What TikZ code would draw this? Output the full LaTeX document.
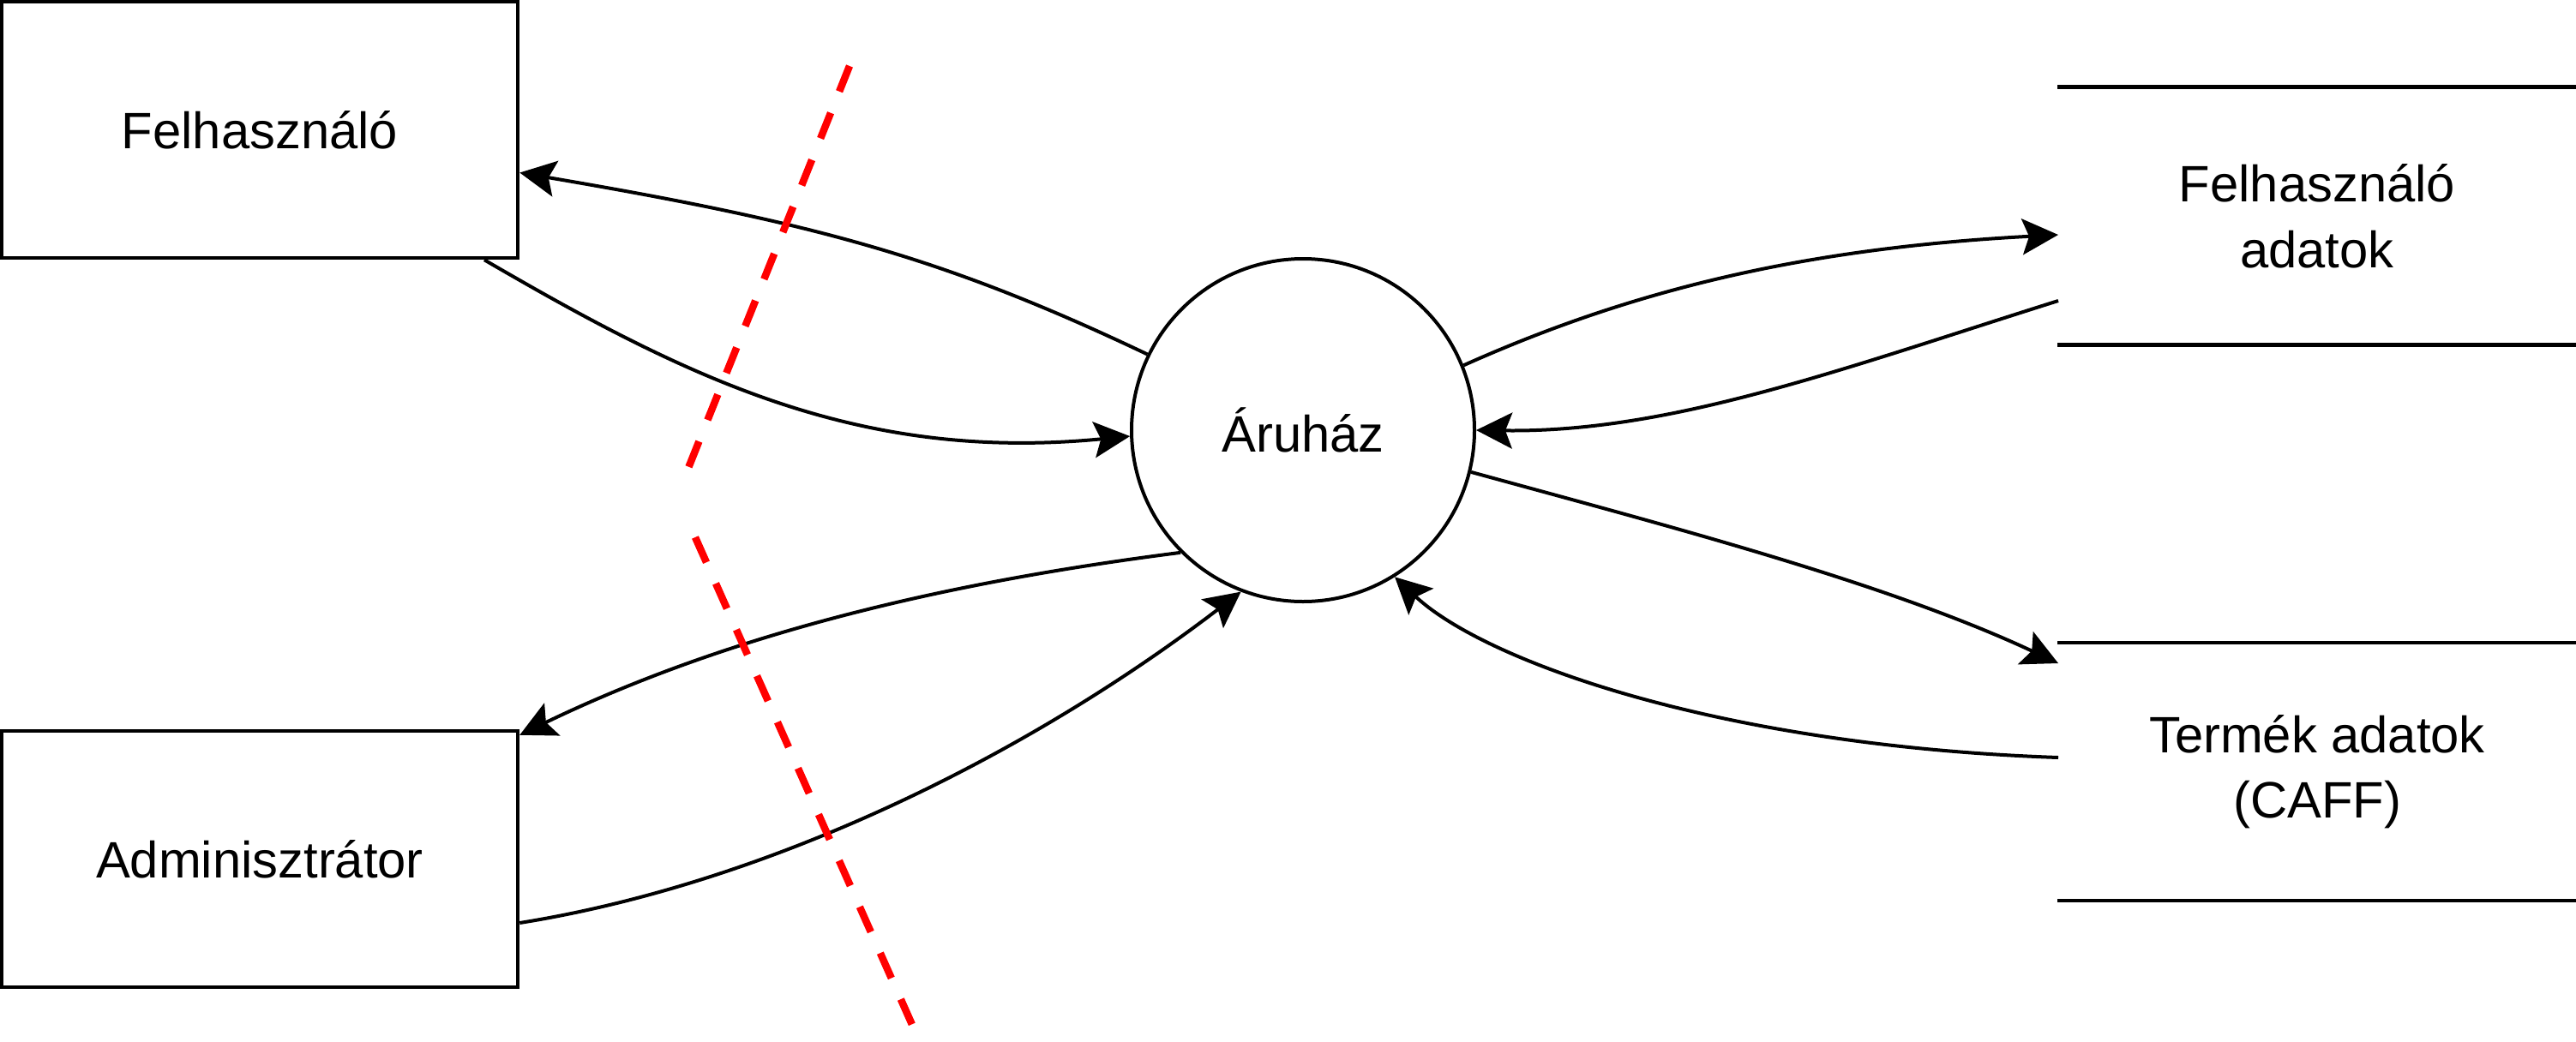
\documentclass[tikz,border=0pt]{standalone}
\usepackage{fontspec}
\setmainfont{Liberation Sans}
\usetikzlibrary{arrows.meta}
\begin{document}
\begin{tikzpicture}[
  every node/.style={font=\fontsize{17}{21.8}\selectfont},
  entity/.style={draw, line width=0.045cm, minimum width=6.02cm, minimum height=2.99cm, inner sep=0pt},
  proc/.style={draw, circle, line width=0.04cm, minimum size=4cm, inner sep=0pt},
  store/.style={minimum width=6.04cm, minimum height=3.0cm, inner sep=0pt, align=center},
  storeline/.style={line width=0.045cm},
  flow/.style={line width=0.04cm, -{Stealth[length=0.42cm, width=0.42cm, inset=0.08cm]}},
  boundary/.style={draw=red, line width=0.085cm, dash pattern=on 0.32cm off 0.27cm}
]
\useasboundingbox (0,0) rectangle (30.05,-12.15);
\node[entity] (fel) at (3.03,-1.515) {Felhasználó};
\node[entity] (adm) at (3.03,-10.025) {Adminisztrátor};
\node[proc] (aru) at (15.2,-5.02) {Áruház};
\node[store] (s1) at (27.03,-2.52) {Felhasználó\\adatok};
\node[store] (s2) at (27.03,-9.005) {Termék adatok\\(CAFF)};
\draw[storeline] (s1.north west) -- (s1.north east);
\draw[storeline] (s1.south west) -- (s1.south east);
\draw[storeline] (s2.north west) -- (s2.north east);
\draw[storeline] (s2.south west) -- (s2.south east);
\coordinate (s1in) at (24.01,-2.74);
\coordinate (s1out) at (24.01,-3.51);
\coordinate (s2in) at (24.01,-7.74);
\coordinate (s2out) at (24.01,-8.84);
\coordinate (b1a) at (9.91,-0.77);
\coordinate (b1b) at (7.99,-5.56);
\coordinate (b2a) at (8.11,-6.27);
\coordinate (b2b) at (10.69,-12.07);
% flows
\draw[flow] (aru.154) .. controls (11.0,-3.0) and (9.5,-2.6) .. ([yshift=-0.5cm]fel.east);
\draw[flow] ([xshift=2.62cm]fel.south) .. controls (8.0,-4.4) and (10.0,-5.4) .. (aru.182);
\draw[flow] (aru.22.5) .. controls (19.0,-3.4) and (21.0,-2.9) .. (s1in);
\draw[flow] (s1out) .. controls (21.5,-4.3) and (19.5,-5.05) .. (aru.0);
\draw[flow] (aru.-14.6) .. controls (19.5,-6.15) and (22.0,-6.8) .. (s2in);
\draw[flow] (s2out) .. controls (20.0,-8.7) and (17.3,-7.7) .. (aru.-58.8);
\draw[flow] (aru.225.4) .. controls (11.0,-6.8) and (8.5,-7.4) .. ([yshift=-0.07cm]adm.north east);
\draw[flow] ([yshift=-0.745cm]adm.east) .. controls (9.0,-10.3) and (12.0,-8.8) .. (aru.249);
% boundary
\draw[boundary] (b1a) -- (b1b);
\draw[boundary] (b2a) -- (b2b);
\end{tikzpicture}
\end{document}
